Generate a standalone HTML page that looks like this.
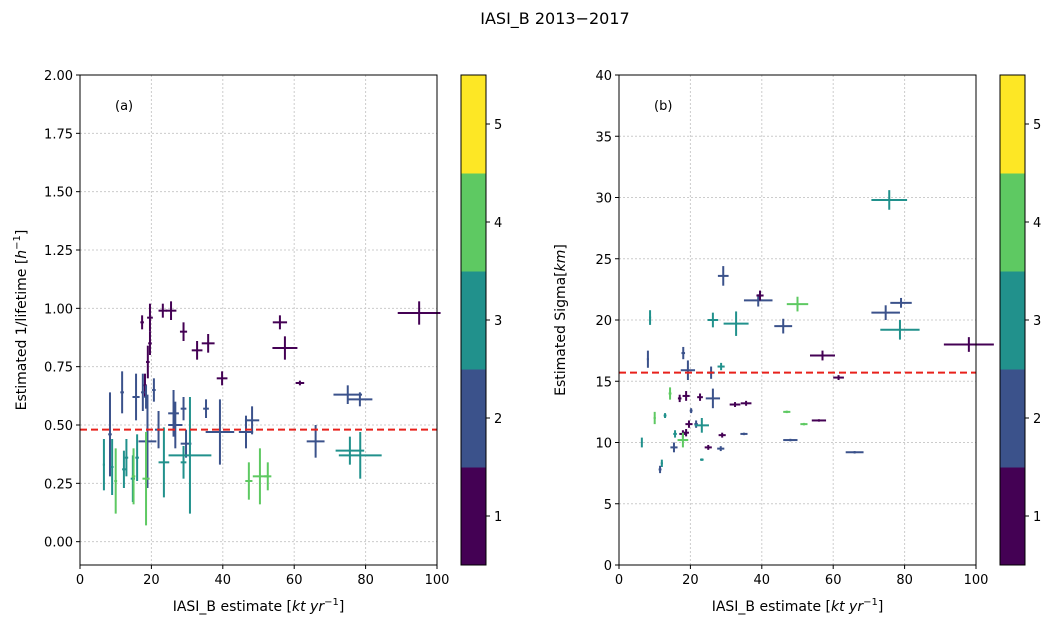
<!DOCTYPE html>
<html><head><meta charset="utf-8"><style>
body{margin:0;background:#fff;}
svg{display:block;font-family:"DejaVu Sans","Liberation Sans",sans-serif;}
</style></head><body>
<svg id="fig" width="1056" height="628" viewBox="0 0 1056 628">
<text x="555" y="24" text-anchor="middle" font-size="16">IASI_B 2013−2017</text>
</svg>
<script>
const aX=[17.4,19.6,19.6,19.0,18.2,23.2,25.5,29,32.8,35.9,39.8,56,57.4,61.6,95,
 8.4,11.8,15.7,17.6,18.5,18.9,20.7,22,26.2,26.7,29,29.7,35.3,39.2,46.5,48.2,75,78.4,66,
 6.7,9,12.3,13,14.8,23.5,29,30.8,75.6,78.5,
 10,15,18.5,47.3,50.4,52.6,16];
const aY=[0.94,0.96,0.85,0.77,0.67,0.99,0.99,0.90,0.82,0.85,0.70,0.94,0.83,0.68,0.98,
 0.46,0.64,0.62,0.64,0.62,0.43,0.65,0.48,0.55,0.50,0.57,0.42,0.57,0.47,0.47,0.52,0.63,0.61,0.43,
 0.33,0.32,0.31,0.36,0.27,0.34,0.34,0.37,0.39,0.37,
 0.26,0.28,0.27,0.26,0.28,0.28,0.36];
const aXE=[0.5,0.8,0.5,0.5,0.5,1.2,1.5,1,1.5,1.8,1.5,2,3.5,1.2,6,
 0.5,0.5,1,0.5,0.5,2.5,0.5,1,1.5,2,0.8,1.5,0.8,4,2,2,4,3.5,2.5,
 0.3,0.4,0.5,0.5,0.6,1.5,0.8,6,4,6,
 0.4,0.5,1,1,2,1,0.5];
const aYE=[0.03,0.06,0.05,0.07,0.05,0.03,0.04,0.04,0.04,0.04,0.03,0.03,0.05,0.01,0.05,
 0.18,0.09,0.1,0.08,0.05,0.2,0.05,0.08,0.1,0.1,0.05,0.06,0.04,0.14,0.07,0.06,0.04,0.03,0.07,
 0.11,0.12,0.08,0.08,0.1,0.15,0.07,0.25,0.06,0.1,
 0.14,0.12,0.2,0.08,0.12,0.06,0.1];
const aC=[1,1,1,1,1,1,1,1,1,1,1,1,1,1,1,
 2,2,2,2,2,2,2,2,2,2,2,2,2,2,2,2,2,2,2,
 3,3,3,3,3,3,3,3,3,3,
 4,4,4,4,4,4,3];
const aMean=0.48;
const bX=[8.7,8.1,18,19.3,26.3,32.8,29.2,39,39.5,50,46,57,61.5,75.7,74.7,79,78.7,98,25.8,28.6,
 14.3,17,18.8,22.7,26.3,32.5,35.6,47,51.8,56,20.2,10,12.9,19.6,21.6,23.2,17.9,18.8,15.7,17.9,35,28.9,48,6.4,15.4,25,28.5,23.2,12,11.5,66];
const bY=[20.2,16.8,17.3,15.9,20,19.7,23.6,21.6,22,21.3,19.5,17.1,15.3,29.8,20.6,21.4,19.2,18,15.7,16.2,
 14,13.6,13.8,13.7,13.6,13.1,13.2,12.5,11.5,11.8,12.6,12,12.2,11.5,11.5,11.4,10.7,10.8,10.7,10.2,10.7,10.6,10.2,10,9.6,9.6,9.5,8.6,8.3,7.8,9.2];
const bXE=[0.3,0.3,0.5,2,1.5,3.5,1.5,4,1,3,2.5,3.5,1.5,5,4,3,5.5,7,1,1,
 0.4,0.5,1,0.8,2,1.5,1.5,1,1,2,0.4,0.3,0.4,1,0.5,2,1,0.8,0.5,1.5,1,1,2,0.2,1,1,1,0.5,0.3,0.4,2.5];
const bYE=[0.6,0.7,0.5,0.8,0.6,1,0.8,0.5,0.4,0.6,0.6,0.4,0.2,0.8,0.6,0.4,0.8,0.6,0.5,0.3,
 0.5,0.3,0.4,0.3,0.8,0.2,0.2,0.1,0.1,0.1,0.2,0.5,0.2,0.3,0.3,0.6,0.3,0.3,0.3,0.6,0.1,0.2,0.1,0.4,0.4,0.2,0.2,0.1,0.3,0.3,0.1];
const bC=[3,2,2,2,3,3,2,2,1,4,2,1,1,3,2,2,3,1,2,3,
 4,1,1,1,2,1,1,4,4,1,2,4,3,1,2,3,1,1,3,4,2,1,2,3,2,1,2,3,3,2,2];
const bMean=15.7;
const aYTicks=["0.00","0.25","0.50","0.75","1.00","1.25","1.50","1.75","2.00"];
const bYTicks=["0","5","10","15","20","25","30","35","40"];
const xTicks=["0","20","40","60","80","100"];
const cbTicks=["1","2","3","4","5"];
const cols=["#440154","#3b528b","#21918c","#5ec962","#fde725"];

const NS="http://www.w3.org/2000/svg";
const svg=document.getElementById('fig');
function mk(tag,at,parent){const e=document.createElementNS(NS,tag);for(const k in at)e.setAttribute(k,at[k]);(parent||svg).appendChild(e);return e;}

function panel(L,R,T,B,ymin,ymax,yTicks,X,Y,XE,YE,C,mean,lab,ylabel,cbx,pre){
  const sx=v=>L+(v-0)/100*(R-L);
  const sy=v=>B-(v-ymin)/(ymax-ymin)*(B-T);
  const g=mk('g',{});
  
  
  xTicks.forEach(t=>{const v=+t;const x=sx(v);
    const gl=mk('line',{x1:x,x2:x,y1:T,y2:B,stroke:'#cccccc','stroke-width':1,'stroke-dasharray':'2,2'},g);
    
    mk('line',{x1:x,x2:x,y1:B,y2:B+4,stroke:'#000'},g);
    const tx=mk('text',{x:x,y:B+19,'text-anchor':'middle','font-size':13},g);tx.textContent=t;
    
  });
  yTicks.forEach(t=>{const v=+t;const y=sy(v);
    const gl=mk('line',{x1:L,x2:R,y1:y,y2:y,stroke:'#cccccc','stroke-width':1,'stroke-dasharray':'2,2'},g);
    
    mk('line',{x1:L-4,x2:L,y1:y,y2:y,stroke:'#000'},g);
    const tx=mk('text',{x:L-7,y:y+5,'text-anchor':'end','font-size':13},g);tx.textContent=t;
    
  });
  for(let i=0;i<X.length;i++){
    const col=cols[C[i]-1];
    const eg=mk('g',{stroke:col,'stroke-width':2},g);
    
    
    mk('line',{x1:sx(X[i]-XE[i]),x2:sx(X[i]+XE[i]),y1:sy(Y[i]),y2:sy(Y[i])},eg);
    mk('line',{x1:sx(X[i]),x2:sx(X[i]),y1:sy(Y[i]-YE[i]),y2:sy(Y[i]+YE[i])},eg);
  }
  const ml=mk('line',{x1:L,x2:R,y1:sy(mean),y2:sy(mean),stroke:'#e8211b','stroke-width':2,'stroke-dasharray':'7,4'},g);
  
  const fr=mk('rect',{x:L,y:T,width:R-L,height:B-T,fill:'none',stroke:'#000','stroke-width':1},g);
  
  const pl=mk('text',{x:L+35,y:T+35,'font-size':13},g);pl.textContent=lab;
  
  const xl=mk('text',{x:(L+R)/2,y:B+46,'text-anchor':'middle','font-size':14},g);
  xl.innerHTML='IASI_B estimate [<tspan font-style="italic">kt yr</tspan><tspan dy="-6" font-size="10">−1</tspan><tspan dy="6">]</tspan>';
  
  const yl=mk('text',{transform:`translate(${L-54},${(T+B)/2}) rotate(-90)`,'text-anchor':'middle','font-size':14},g);
  yl.innerHTML=ylabel;
  
  const cb=mk('g',{},g);
  
  const h=(B-T)/5;
  for(let k=0;k<5;k++){
    const r=mk('rect',{x:cbx,y:B-(k+1)*h,width:25,height:h+0.5,fill:cols[k]},cb);
    
  }
  mk('rect',{x:cbx,y:T,width:25,height:B-T,fill:'none',stroke:'#000'},cb);
  cbTicks.forEach(t=>{const v=+t;const y=B-(v-0.5)*h;
    mk('line',{x1:cbx+25,x2:cbx+29,y1:y,y2:y,stroke:'#000'},cb);
    const tx=mk('text',{x:cbx+33,y:y+5,'font-size':13},cb);tx.textContent=t;
    
  });
}
panel(80,437,75,565,-0.1,2.0,aYTicks,aX,aY,aXE,aYE,aC,aMean,'(a)',
 'Estimated 1/lifetime  [<tspan font-style="italic">h</tspan><tspan dy="-6" font-size="10">−1</tspan><tspan dy="6">]</tspan>',461,'a');
panel(619,976,75,565,0,40,bYTicks,bX,bY,bXE,bYE,bC,bMean,'(b)',
 'Estimated Sigma[<tspan font-style="italic">km</tspan>]',1000,'b');
</script>
</body></html>
